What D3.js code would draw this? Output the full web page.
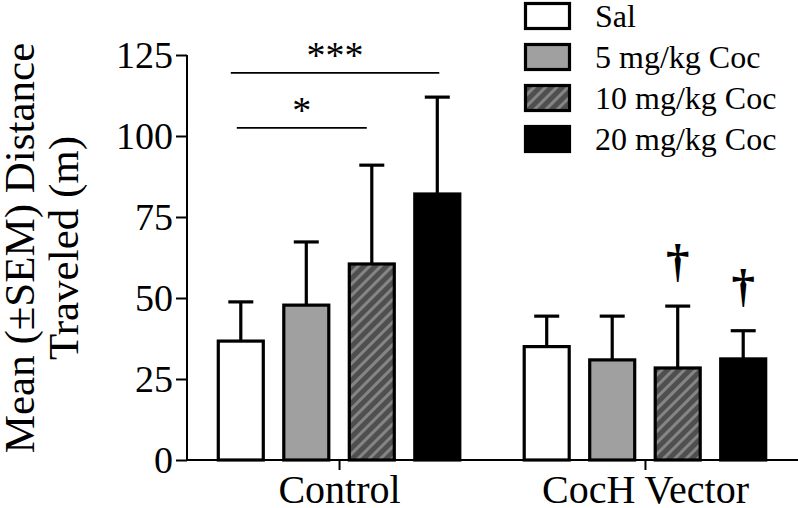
<!DOCTYPE html>
<html><head><meta charset="utf-8">
<script src="https://cdn.jsdelivr.net/npm/d3@7"></script>
<style>
html,body{margin:0;padding:0;background:#fff;}
svg{display:block;}
text{font-family:"Liberation Serif","Times New Roman",serif;fill:#000;}
</style></head>
<body>
<svg id="chart" width="798" height="508"></svg>
<script>
const groups = ["Control", "CocH Vector"];
const series = ["Sal", "5 mg/kg Coc", "10 mg/kg Coc", "20 mg/kg Coc"];
const controlMeans = [36.7, 47.8, 60.5, 82.1];
const controlSEM = [12.1, 19.5, 30.5, 29.9];
const cochMeans = [35.0, 30.9, 28.4, 31.2];
const cochSEM = [9.4, 13.5, 19.1, 8.7];
const yTicks = [0, 25, 50, 75, 100, 125];
const yTitle = ["Mean (±SEM) Distance", "Traveled (m)"];
const sigBrackets = [
  {group: "Control", from: "Sal", to: "20 mg/kg Coc", level: 119.5, label: "***"},
  {group: "Control", from: "Sal", to: "10 mg/kg Coc", level: 102.5, label: "*"}
];
const daggers = [
  {group: "CocH Vector", series: "10 mg/kg Coc", label: "†"},
  {group: "CocH Vector", series: "20 mg/kg Coc", label: "†"}
];

const meansByGroup = {"Control": controlMeans, "CocH Vector": cochMeans};
const semByGroup = {"Control": controlSEM, "CocH Vector": cochSEM};
const data = [];
groups.forEach(g => series.forEach((s, i) => data.push({group: g, series: s, mean: meansByGroup[g][i], sem: semByGroup[g][i]})));

const svg = d3.select("#chart");
const defs = svg.append("defs");
const pat = defs.append("pattern").attr("id", "hatch").attr("patternUnits", "userSpaceOnUse")
  .attr("width", 8).attr("height", 8).attr("patternTransform", "rotate(45)");
pat.append("rect").attr("width", 8).attr("height", 8).attr("fill", "#4f4f4f");
pat.append("rect").attr("x", 0).attr("width", 3).attr("height", 8).attr("fill", "#858585");

const fills = {"Sal": "#ffffff", "5 mg/kg Coc": "#a0a0a0", "10 mg/kg Coc": "url(#hatch)", "20 mg/kg Coc": "#000000"};

const xAxisLeft = 187, xAxisRight = 798, y0 = 460, yTop = 55;
const y = d3.scaleLinear().domain([0, 125]).range([y0, yTop]);
const x = d3.scalePoint().domain(groups).range([xAxisLeft, xAxisRight - 1]).padding(0.497);
const xs = d3.scaleBand().domain(series).range([-120.75, 120.75]).paddingInner(0.313).paddingOuter(0);
const bw = xs.bandwidth();
const cx = d => x(d.group) + xs(d.series) + bw / 2;

// bars
svg.append("g").selectAll("rect").data(data).join("rect")
  .attr("x", d => x(d.group) + xs(d.series))
  .attr("y", d => y(d.mean))
  .attr("width", bw)
  .attr("height", d => y(0) - y(d.mean))
  .attr("fill", d => fills[d.series])
  .attr("stroke", "#000").attr("stroke-width", 3.2);

// error bars
const eb = svg.append("g").attr("stroke", "#000").attr("stroke-width", 3.2);
eb.selectAll("line.v").data(data).join("line").attr("class", "v")
  .attr("x1", cx).attr("x2", cx)
  .attr("y1", d => y(d.mean)).attr("y2", d => y(d.mean + d.sem));
eb.selectAll("line.c").data(data).join("line").attr("class", "c")
  .attr("x1", d => cx(d) - 12.5).attr("x2", d => cx(d) + 12.5)
  .attr("y1", d => y(d.mean + d.sem)).attr("y2", d => y(d.mean + d.sem));

// y axis
const yAxis = svg.append("g").attr("transform", `translate(${xAxisLeft},0)`)
  .call(d3.axisLeft(y).tickValues(yTicks).tickSize(11).tickPadding(3));
yAxis.select(".domain").attr("stroke-width", 2).attr("d", `M0,${y0}V${yTop}`);
yAxis.selectAll(".tick line").attr("stroke-width", 2);
yAxis.selectAll(".tick text").attr("font-size", 38).attr("font-family", '"Liberation Serif",serif').attr("dy", "0.34em");

// x axis
const xAxis = svg.append("g").attr("transform", `translate(0,${y0})`)
  .call(d3.axisBottom(x).tickSize(10).tickPadding(4));
xAxis.select(".domain").attr("stroke-width", 2).attr("d", `M${xAxisLeft},0H${xAxisRight}`);
xAxis.selectAll(".tick line").attr("stroke-width", 2);
xAxis.selectAll(".tick text").attr("font-size", 40).attr("font-family", '"Liberation Serif",serif').attr("dy", "0.72em");

// y title
const yt = svg.append("text").attr("transform", "translate(34,248) rotate(-90)")
  .attr("text-anchor", "middle").attr("font-size", 43);
yt.append("tspan").attr("x", 0).attr("y", 0).text(yTitle[0]);
yt.append("tspan").attr("x", 0).attr("y", 44).text(yTitle[1]);

// significance brackets
const bracketInset = {"***": [-10, 2], "*": [-4, -5]};
sigBrackets.forEach(b => {
  const x1 = x(b.group) + xs(b.from) + bw / 2 + bracketInset[b.label][0];
  const x2 = x(b.group) + xs(b.to) + bw / 2 + bracketInset[b.label][1];
  const yy = y(b.level);
  svg.append("line").attr("x1", x1).attr("x2", x2).attr("y1", yy).attr("y2", yy)
    .attr("stroke", "#000").attr("stroke-width", 1.8);
  svg.append("text").attr("x", (x1 + x2) / 2).attr("y", yy - 5).attr("text-anchor", "middle")
    .attr("font-size", 38).text(b.label);
});

// daggers
daggers.forEach(dg => {
  const d = data.find(e => e.group === dg.group && e.series === dg.series);
  svg.append("text").attr("x", cx(d)).attr("y", y(d.mean + d.sem) - 30)
    .attr("text-anchor", "middle").attr("font-size", 47).attr("font-weight", "bold").text(dg.label);
});

// legend
const lg = svg.append("g").attr("transform", "translate(524,2)");
const rowH = 41;
const items = lg.selectAll("g").data(series).join("g").attr("transform", (d, i) => `translate(0,${i * rowH})`);
items.append("rect").attr("x", 1.5).attr("y", 1.5).attr("width", 44).attr("height", 25)
  .attr("fill", d => fills[d]).attr("stroke", "#000").attr("stroke-width", 3.2);
items.append("text").attr("x", 71).attr("y", 25).attr("font-size", 32).text(d => d);
</script>
</body></html>
